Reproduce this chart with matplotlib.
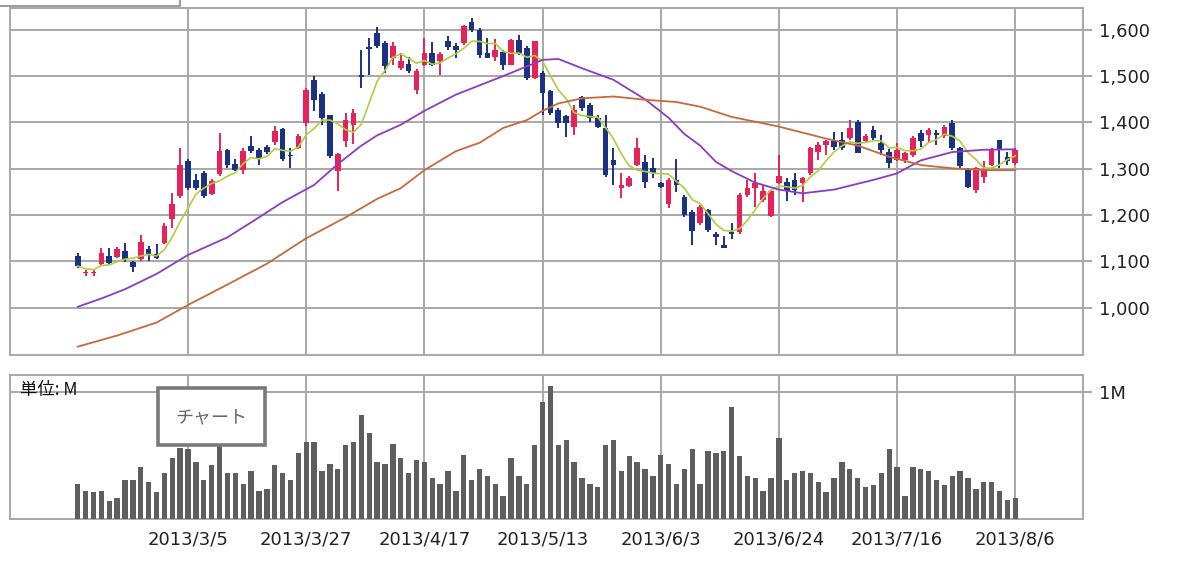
import matplotlib
matplotlib.use('Agg')
import matplotlib.pyplot as plt
from matplotlib.patches import Rectangle
import numpy as np
import pandas as pd

plt.rcParams['font.family'] = ['DejaVu Sans', 'Noto Sans CJK JP']

# ---------------- data ----------------
opens = [1112, 1074, 1075, 1094, 1112, 1110, 1122, 1098, 1105, 1126,
         1115, 1139, 1191, 1241, 1316, 1275, 1291, 1245, 1288, 1341,
         1311, 1298, 1350, 1341, 1347, 1357, 1385, 1330, 1345, 1399,
         1492, 1462, 1415, 1295, 1360, 1395, 1502, 1563, 1594, 1571,
         1539, 1517, 1526, 1470, 1524, 1550, 1532, 1576, 1564, 1571,
         1617, 1600, 1550, 1542, 1553, 1524, 1578, 1560, 1495, 1506,
         1468, 1427, 1413, 1391, 1454, 1438, 1409, 1387, 1319, 1258,
         1262, 1308, 1315, 1301, 1270, 1225, 1276, 1240, 1207, 1183,
         1211, 1160, 1135, 1164, 1164, 1243, 1258, 1232, 1198, 1270,
         1272, 1276, 1269, 1290, 1337, 1352, 1359, 1362, 1366, 1402,
         1359, 1384, 1355, 1337, 1319, 1319, 1330, 1377, 1373, 1377,
         1370, 1398, 1344, 1297, 1254, 1283, 1308, 1361, 1326, 1312]
highs = [1118, 1082, 1082, 1130, 1128, 1131, 1140, 1101, 1156, 1133,
         1137, 1183, 1247, 1345, 1320, 1288, 1295, 1278, 1377, 1343,
         1320, 1345, 1370, 1345, 1352, 1392, 1388, 1345, 1374, 1474,
         1501, 1465, 1417, 1334, 1420, 1429, 1557, 1582, 1606, 1575,
         1573, 1550, 1542, 1516, 1583, 1573, 1552, 1586, 1571, 1611,
         1625, 1604, 1582, 1581, 1557, 1581, 1589, 1564, 1576, 1510,
         1470, 1431, 1416, 1438, 1456, 1441, 1416, 1416, 1344, 1290,
         1284, 1367, 1330, 1324, 1272, 1279, 1321, 1243, 1211, 1222,
         1214, 1164, 1155, 1182, 1247, 1276, 1290, 1265, 1254, 1330,
         1279, 1290, 1283, 1348, 1357, 1362, 1380, 1380, 1406, 1406,
         1375, 1393, 1373, 1342, 1355, 1337, 1370, 1384, 1388, 1384,
         1395, 1406, 1348, 1301, 1303, 1316, 1344, 1362, 1337, 1344]
lows = [1085, 1068, 1068, 1090, 1094, 1108, 1098, 1078, 1101, 1100,
        1106, 1137, 1173, 1237, 1255, 1254, 1237, 1243, 1284, 1302,
        1295, 1288, 1334, 1308, 1331, 1352, 1316, 1302, 1342, 1392,
        1424, 1395, 1324, 1252, 1348, 1354, 1474, 1503, 1560, 1507,
        1523, 1514, 1506, 1461, 1521, 1521, 1503, 1557, 1540, 1568,
        1596, 1540, 1539, 1532, 1514, 1523, 1546, 1492, 1493, 1416,
        1416, 1387, 1369, 1373, 1424, 1400, 1387, 1283, 1265, 1237,
        1260, 1305, 1258, 1279, 1258, 1216, 1250, 1196, 1135, 1178,
        1164, 1135, 1128, 1149, 1159, 1238, 1218, 1229, 1195, 1267,
        1231, 1243, 1229, 1287, 1319, 1330, 1341, 1341, 1362, 1334,
        1357, 1362, 1330, 1301, 1316, 1312, 1326, 1348, 1355, 1352,
        1366, 1341, 1301, 1258, 1247, 1269, 1305, 1301, 1308, 1308]
closes = [1090, 1078, 1078, 1119, 1097, 1126, 1105, 1088, 1142, 1115,
          1108, 1176, 1223, 1309, 1259, 1259, 1241, 1273, 1338, 1309,
          1298, 1338, 1338, 1324, 1336, 1381, 1320, 1327, 1370, 1469,
          1449, 1410, 1327, 1331, 1405, 1420, 1497, 1558, 1564, 1521,
          1564, 1532, 1511, 1511, 1550, 1524, 1547, 1563, 1557, 1609,
          1600, 1546, 1540, 1557, 1524, 1578, 1550, 1495, 1575, 1463,
          1420, 1398, 1398, 1427, 1431, 1409, 1391, 1286, 1308, 1266,
          1281, 1344, 1272, 1290, 1260, 1276, 1265, 1200, 1166, 1217,
          1168, 1153, 1130, 1159, 1243, 1258, 1269, 1251, 1251, 1284,
          1251, 1254, 1279, 1344, 1352, 1359, 1348, 1344, 1388, 1335,
          1370, 1366, 1341, 1312, 1341, 1334, 1366, 1359, 1384, 1373,
          1391, 1344, 1305, 1260, 1301, 1299, 1342, 1341, 1316, 1341]
# volume in millions of shares
volume = [0.278, 0.221, 0.208, 0.221, 0.138, 0.164, 0.306, 0.306, 0.408, 0.291,
          0.208, 0.364, 0.481, 0.560, 0.550, 0.450, 0.306, 0.420, 0.580, 0.364,
          0.364, 0.278, 0.377, 0.221, 0.234, 0.420, 0.364, 0.306, 0.520, 0.605,
          0.605, 0.377, 0.434, 0.395, 0.577, 0.605, 0.818, 0.675, 0.450, 0.434,
          0.592, 0.481, 0.364, 0.462, 0.450, 0.322, 0.278, 0.377, 0.221, 0.506,
          0.306, 0.395, 0.335, 0.278, 0.179, 0.478, 0.335, 0.278, 0.577, 0.919,
          1.047, 0.577, 0.618, 0.450, 0.322, 0.278, 0.249, 0.577, 0.618, 0.377,
          0.491, 0.450, 0.395, 0.335, 0.506, 0.434, 0.278, 0.395, 0.548, 0.278,
          0.535, 0.519, 0.535, 0.875, 0.491, 0.335, 0.322, 0.221, 0.322, 0.634,
          0.306, 0.364, 0.377, 0.364, 0.291, 0.208, 0.322, 0.450, 0.392, 0.322,
          0.249, 0.265, 0.364, 0.548, 0.405, 0.179, 0.405, 0.392, 0.377, 0.306,
          0.265, 0.335, 0.377, 0.322, 0.236, 0.291, 0.291, 0.221, 0.151, 0.164]

# 25-day moving average (at the given candle index)
ma25_idx = [0, 3, 6, 10, 14, 19, 23, 26, 30, 33, 36, 38, 41, 44, 48, 51, 54, 57,
            59, 61, 64, 68, 72, 75, 77, 79, 81, 83, 86, 89, 92, 96, 101, 104,
            107, 111, 115, 119]
ma25_val = [1002, 1020, 1040, 1073, 1114, 1152, 1195, 1228, 1265, 1310, 1350,
            1372, 1395, 1425, 1460, 1480, 1500, 1521, 1535, 1537, 1517, 1492,
            1450, 1410, 1375, 1350, 1315, 1295, 1270, 1255, 1247, 1255, 1276,
            1290, 1318, 1336, 1341, 1342]
# 75-day moving average
ma75_idx = [0, 5, 10, 14, 19, 24, 29, 34, 38, 41, 44, 48, 51, 54, 57, 59, 61, 64,
            68, 72, 76, 79, 83, 89, 95, 99, 103, 107, 111, 115, 119]
ma75_val = [916, 940, 968, 1006, 1050, 1095, 1150, 1195, 1235, 1258, 1297, 1338,
            1356, 1388, 1405, 1425, 1441, 1452, 1456, 1449, 1444, 1434, 1412,
            1391, 1365, 1350, 1326, 1308, 1301, 1297, 1297]

price_ticks = [1000, 1100, 1200, 1300, 1400, 1500, 1600]
date_idx = [14, 29, 44, 59, 74, 89, 104, 119]
date_labels = ['2013/3/5', '2013/3/27', '2013/4/17', '2013/5/13',
               '2013/6/3', '2013/6/24', '2013/7/16', '2013/8/6']

# ---------------- drawing ----------------
W, H = 1200, 583
fig = plt.figure(figsize=(W / 100, H / 100), dpi=100)
fig.patch.set_facecolor('white')

L, R = 10, 1083
ax = fig.add_axes([L / W, 1 - 355 / H, (R - L) / W, (355 - 8) / H])
axv = fig.add_axes([L / W, 1 - 519 / H, (R - L) / W, (519 - 375) / H])

grid_c = '#a8a8a8'
red = '#e5225a'
blue = '#1b3283'

o = np.array(opens, float)
h = np.array(highs, float)
lo = np.array(lows, float)
c = np.array(closes, float)
x = np.arange(len(o))
cols = np.where(c >= o, red, blue)

ax.vlines(x, lo, h, colors=cols, linewidth=1.4, zorder=3)
ax.bar(x, np.maximum(np.abs(c - o), 2.2), bottom=np.minimum(o, c), width=0.72,
       color=cols, linewidth=0, zorder=4)

ma5 = pd.Series(c).rolling(5, min_periods=1).mean()
ax.plot(x, ma5, color='#b3cc3c', lw=1.2, zorder=5)
ax.plot(ma25_idx, ma25_val, color='#8a3cc4', lw=1.3, zorder=5)
ax.plot(ma75_idx, ma75_val, color='#c66a3a', lw=1.3, zorder=5)

xlim = (-8.6, 127.6)
for a in (ax, axv):
    a.set_xlim(*xlim)
    a.set_xticks(date_idx)
    a.grid(True, color=grid_c, lw=1.4, zorder=0)
    a.set_axisbelow(True)
    for s in a.spines.values():
        s.set_color(grid_c)
        s.set_linewidth(1.4)
    a.yaxis.tick_right()
    a.tick_params(axis='y', length=6.5, width=1.4, color=grid_c,
                  labelsize=13, pad=5, labelcolor='#222222')
    a.tick_params(axis='x', length=0, labelsize=13, pad=8, labelcolor='#222222')

ax.set_ylim(898, 1647)
ax.set_yticks(price_ticks)
ax.set_yticklabels([f'{v:,}' for v in price_ticks])
ax.set_xticklabels([])

axv.bar(x, volume, width=0.68, color='#5e5e5e', linewidth=0, zorder=3)
axv.set_ylim(0, 1.13)
axv.set_yticks([1])
axv.set_yticklabels(['1M'])
axv.set_xticklabels(date_labels)
axv.text(10 / (R - L), (519 - 390) / (519 - 375), '単位: M', transform=axv.transAxes,
         ha='left', va='center', fontsize=12.5, color='#111111',
         family=['Noto Sans CJK JP', 'DejaVu Sans'], zorder=6)

# "チャート" label box
box = Rectangle((158 / W, 1 - 445 / H), 107 / W, 57 / H, transform=fig.transFigure,
                facecolor='white', edgecolor='#7a7a7a', lw=2.6, zorder=5)
fig.add_artist(box)
fig.text(211 / W, 1 - 417 / H, 'チャート', ha='center', va='center', fontsize=13,
         color='#666666', family=['Noto Sans CJK JP', 'DejaVu Sans'], zorder=6)

# top-left tab outline
tab = Rectangle((-2 / W, 1 - 6 / H), 182 / W, 12 / H, transform=fig.transFigure,
                facecolor='white', edgecolor='#9a9a9a', lw=1.4, zorder=5)
fig.add_artist(tab)

fig.savefig('out.png', dpi=100)
